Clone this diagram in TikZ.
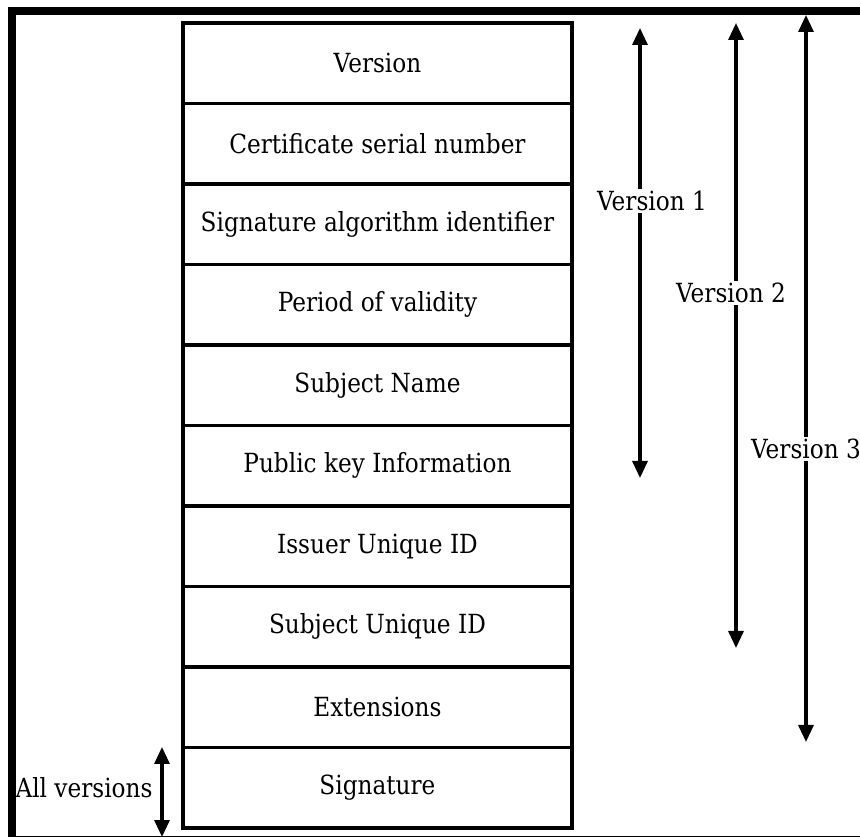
\documentclass[tikz,border=0pt]{standalone}
\usepackage{fontspec}
\setmainfont{DejaVu Serif}[FakeStretch=0.88]
\usetikzlibrary{positioning, arrows.meta}

\begin{document}
\begin{tikzpicture}[
    x=0.02cm, y=-0.02cm,
    field/.style={draw, line width=2.1pt, minimum width=7.78cm, minimum height=1.61cm, outer sep=0pt, font=\fontsize{15}{18}\selectfont},
    arrow/.style={{Triangle[length=0.34cm, width=0.3cm]}-{Triangle[length=0.34cm, width=0.3cm]}, line width=1.8pt},
    label/.style={fill=white, inner sep=1pt, font=\fontsize{15}{18}\selectfont}
]
\useasboundingbox (0,0) rectangle (860,837);

% Frame
\draw[line width=4.5pt] (12,11) rectangle (870,840);

% Certificate fields
\node[field, anchor=north west] (version) at (183,23) {Version};
\node[field, below=0pt of version] (serial) {Certificate serial number};
\node[field, below=0pt of serial] (sigalg) {Signature algorithm identifier};
\node[field, below=0pt of sigalg] (validity) {Period of validity};
\node[field, below=0pt of validity] (subject) {Subject Name};
\node[field, below=0pt of subject] (pubkey) {Public key Information};
\node[field, below=0pt of pubkey] (issuerid) {Issuer Unique ID};
\node[field, below=0pt of issuerid] (subjectid) {Subject Unique ID};
\node[field, below=0pt of subjectid] (extensions) {Extensions};
\node[field, below=0pt of extensions] (signature) {Signature};

% Version ranges
\coordinate (v1top) at (640,28);
\coordinate (v1bot) at (640,478);
\coordinate (v2top) at (736,23);
\coordinate (v2bot) at (736,648);
\coordinate (v3top) at (806,15);
\coordinate (v3bot) at (806,742);
\coordinate (alltop) at (162,747);
\coordinate (allbot) at (162,837);

\draw[arrow] (v1top) -- (v1bot);
\draw[arrow] (v2top) -- (v2bot);
\draw[arrow] (v3top) -- (v3bot);
\draw[arrow] (alltop) -- (allbot);

% Labels
\node[label] (v1label) at (652,201) {Version 1};
\node[label] (v2label) at (731,293) {Version 2};
\node[label] (v3label) at (806,449) {Version 3};
\node[label, fill=none] (alllabel) at (84,788) {All versions};

\end{tikzpicture}
\end{document}
